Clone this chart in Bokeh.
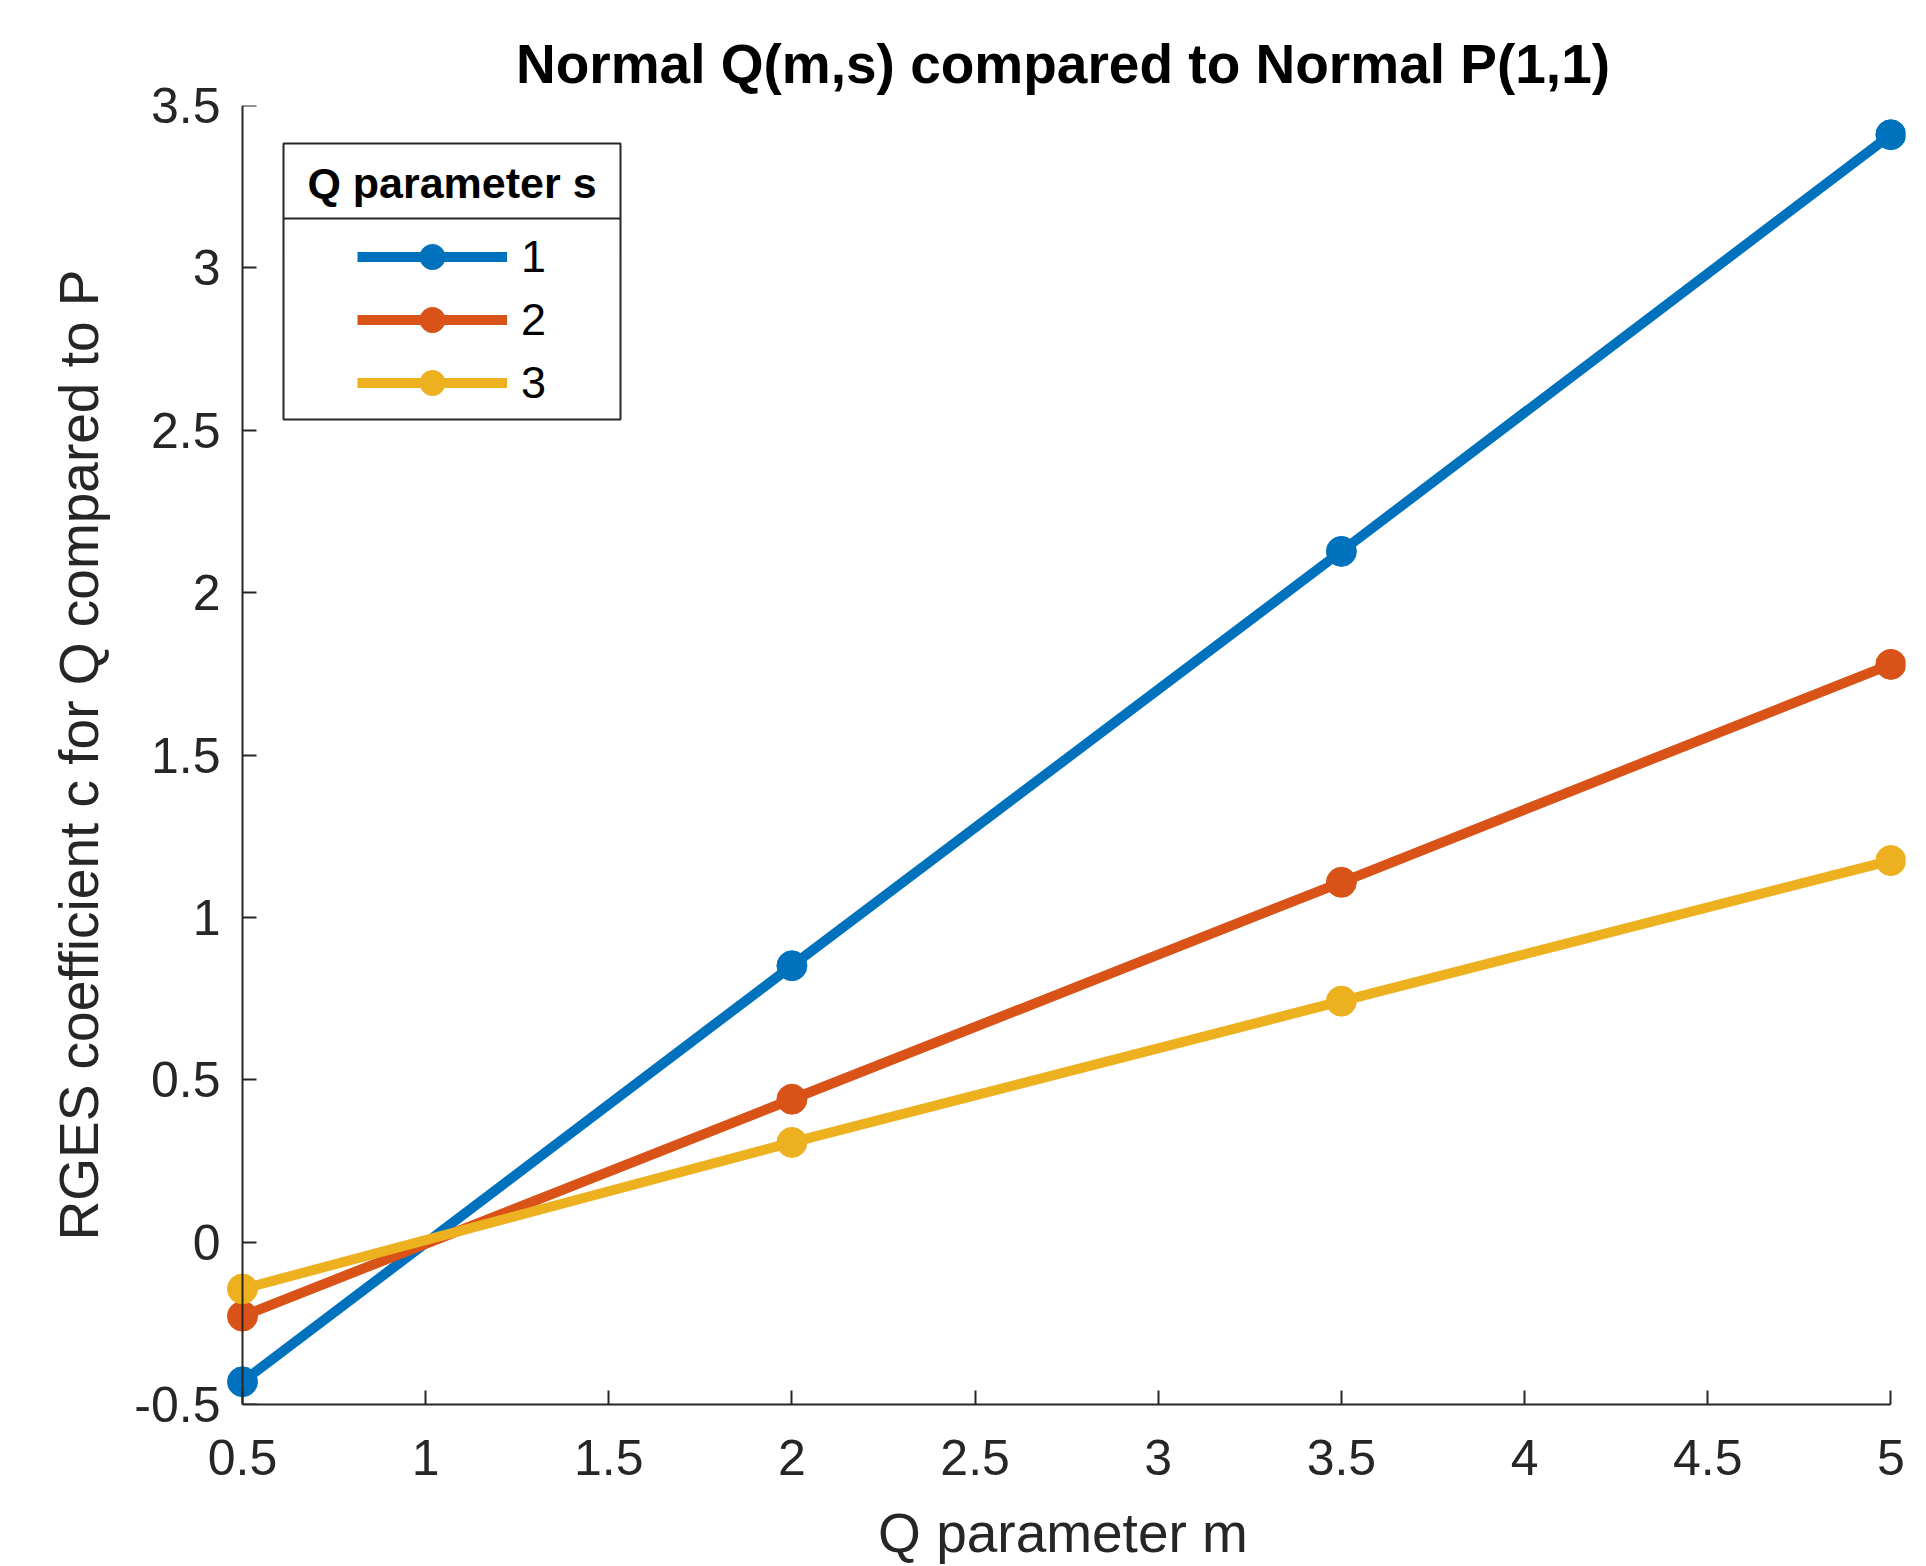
from bokeh.plotting import figure
from bokeh.models import Range1d, FixedTicker, Legend, LegendItem, BoxAnnotation, Label, LinearAxis
from bokeh.embed import file_html
from bokeh.resources import INLINE

# ---------------- data ----------------
m_values = [0.5, 2.0, 3.5, 5.0]
c_s1 = [-0.43, 0.851, 2.127, 3.41]
c_s2 = [-0.228, 0.44, 1.108, 1.779]
c_s3 = [-0.144, 0.307, 0.742, 1.175]
series_labels = ["1", "2", "3"]
series_colors = ["#0072BD", "#D95319", "#EDB120"]

x_ticks = [0.5, 1.0, 1.5, 2.0, 2.5, 3.0, 3.5, 4.0, 4.5, 5.0]
x_tick_labels = ["0.5", "1", "1.5", "2", "2.5", "3", "3.5", "4", "4.5", "5"]
y_ticks = [-0.5, 0.0, 0.5, 1.0, 1.5, 2.0, 2.5, 3.0, 3.5]
y_tick_labels = ["-0.5", "0", "0.5", "1", "1.5", "2", "2.5", "3", "3.5"]

title_text = "Normal Q(m,s) compared to Normal P(1,1)"
x_label = "Q parameter m"
y_label = "RGES coefficient c for Q compared to P"
legend_title = "Q parameter s"

FONT = "Liberation Sans"
AXC = "#262626"

p = figure(width=1910, height=1566,
           x_range=Range1d(0.44, 5.04), y_range=Range1d(-0.5, 3.5),
           output_backend="svg", toolbar_location=None,
           min_border_left=220, min_border_right=5,
           min_border_top=105, min_border_bottom=161)
p.outline_line_color = None
p.background_fill_color = "white"
p.border_fill_color = "white"
p.xgrid.visible = False
p.ygrid.visible = False

# title
p.title.text = title_text
p.title.align = "center"
p.title.text_font = FONT
p.title.text_font_size = "55px"
p.title.text_font_style = "bold"
p.title.text_color = "#000000"
p.title.standoff = 22

# x axis
xa = p.xaxis[0]
xa.ticker = FixedTicker(ticks=x_ticks)
xa.major_label_overrides = dict(zip(x_ticks, x_tick_labels))
xa.bounds = (x_ticks[0], x_ticks[-1])
xa.axis_line_color = AXC
xa.axis_line_width = 2
xa.major_tick_line_color = AXC
xa.major_tick_line_width = 2
xa.major_tick_in = 14
xa.major_tick_out = 0
xa.minor_tick_line_color = None
xa.major_label_text_font = FONT
xa.major_label_text_font_size = "50px"
xa.major_label_text_color = AXC
xa.major_label_standoff = 35
xa.axis_label = x_label
xa.axis_label_text_font = FONT
xa.axis_label_text_font_size = "55px"
xa.axis_label_text_font_style = "normal"
xa.axis_label_text_color = AXC
xa.axis_label_standoff = 24

# y axis: labels at frame edge (no line / ticks)
ya = p.yaxis[0]
ya.ticker = FixedTicker(ticks=y_ticks)
ya.major_label_overrides = dict(zip(y_ticks, y_tick_labels))
ya.axis_line_color = None
ya.major_tick_line_color = None
ya.minor_tick_line_color = None
ya.major_tick_in = 0
ya.major_tick_out = 0
ya.major_label_text_font = FONT
ya.major_label_text_font_size = "50px"
ya.major_label_text_color = AXC
ya.major_label_standoff = 0
ya.axis_label = y_label
ya.axis_label_text_font = FONT
ya.axis_label_text_font_size = "55px"
ya.axis_label_text_font_style = "normal"
ya.axis_label_text_color = AXC
ya.axis_label_standoff = 21

# y axis line + ticks at m = 0.5 (no labels)
yline = LinearAxis(fixed_location=x_ticks[0], ticker=FixedTicker(ticks=y_ticks),
                   axis_line_color=AXC, axis_line_width=2,
                   major_tick_line_color=AXC, major_tick_line_width=2,
                   major_tick_in=14, major_tick_out=0,
                   minor_tick_line_color=None,
                   major_label_overrides={t: "" for t in y_ticks},
                   major_label_standoff=0)
p.add_layout(yline, "left")

# series
items = []
for ys, lab, col in zip([c_s1, c_s2, c_s3], series_labels, series_colors):
    r1 = p.line(m_values, ys, line_color=col, line_width=10)
    r2 = p.scatter(m_values, ys, size=30, marker="circle",
                   fill_color=col, line_color=col)
    items.append(LegendItem(label=lab, renderers=[r1, r2]))

# legend frame (box + divider + title)
box = BoxAnnotation(left=283, right=620, top=143, bottom=419,
                    left_units="canvas", right_units="canvas",
                    top_units="canvas", bottom_units="canvas",
                    fill_alpha=0, fill_color=None,
                    line_color=AXC, line_alpha=1, line_width=2)
p.add_layout(box)
div = BoxAnnotation(left=283, right=620, top=217, bottom=219,
                    left_units="canvas", right_units="canvas",
                    top_units="canvas", bottom_units="canvas",
                    fill_color=AXC, fill_alpha=1, line_color=None)
p.add_layout(div)
lt = Label(x=451.5, y=182.5, x_units="canvas", y_units="canvas",
           text=legend_title, text_align="center", text_baseline="alphabetic",
           text_font=FONT, text_font_size="43px", text_font_style="bold",
           text_color="#000000")
p.add_layout(lt)

legend = Legend(items=items, location=(137, 990), padding=0, spacing=0, margin=0,
                glyph_width=150, glyph_height=63, label_height=63,
                label_standoff=14, label_text_font=FONT,
                label_text_font_size="45px", label_text_color="#000000",
                label_text_baseline="middle",
                border_line_color=None, background_fill_alpha=0)
p.add_layout(legend, "center")

open("out.html", "w").write(file_html(p, INLINE))
